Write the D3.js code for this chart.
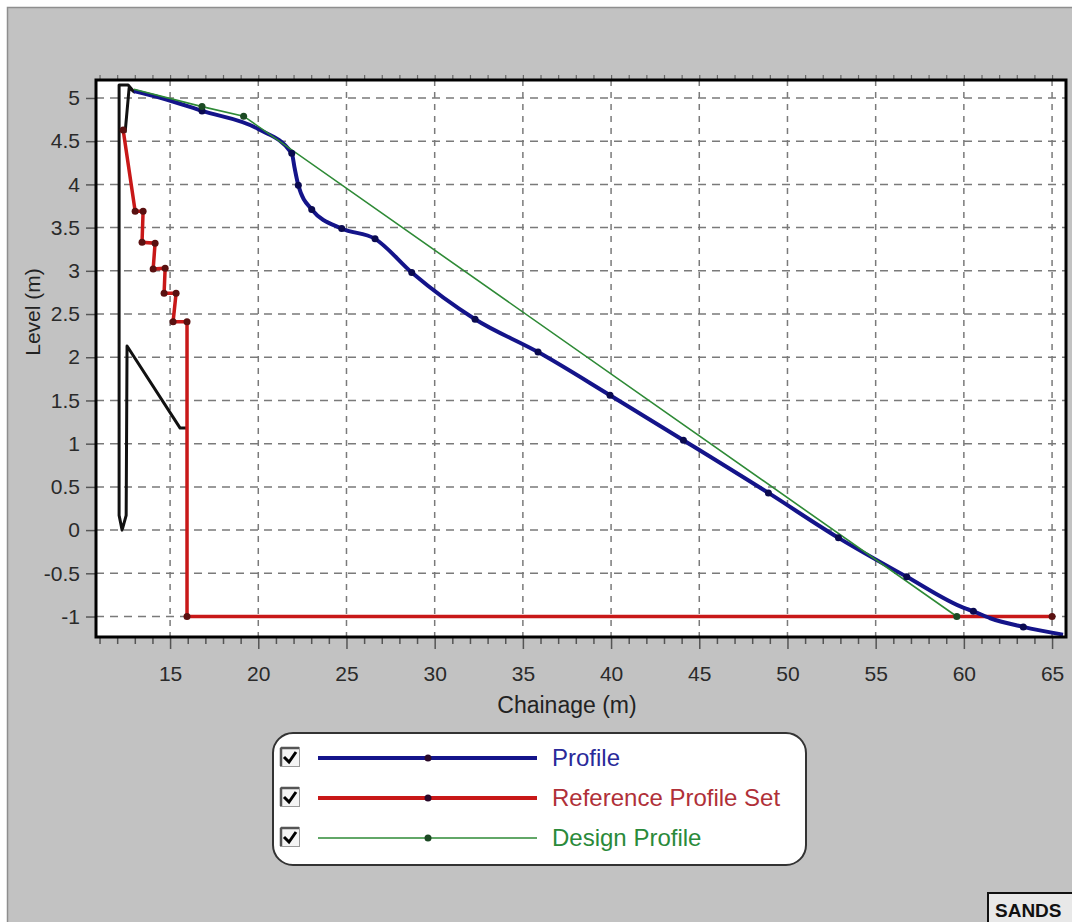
<!DOCTYPE html>
<html>
<head>
<meta charset="utf-8">
<script src="https://cdn.jsdelivr.net/npm/d3@7"></script>
<style>
  body { margin: 0; background: #ffffff; }
  text { font-family: Arial, "Liberation Sans", sans-serif; }
</style>
</head>
<body>
<div id="chart"></div>
<script>
// chart data [chainage, level]
var profile = [
  [12.95, 5.08], [14.5, 5.0], [16.81, 4.85], [20.0, 4.64], [21.9, 4.36],
  [22.05, 4.2], [22.27, 3.99], [23.03, 3.71], [24.73, 3.49], [26.62, 3.37],
  [28.7, 2.98], [32.29, 2.44], [35.86, 2.06], [39.94, 1.56], [44.1, 1.04],
  [48.92, 0.43], [52.89, -0.09], [56.76, -0.54], [60.0, -0.9], [60.54, -0.94],
  [61.5, -1.02], [63.37, -1.12], [65.62, -1.21]
];
var profileMarkers = [
  [16.81, 4.85], [21.9, 4.36], [22.27, 3.99], [23.03, 3.71], [24.73, 3.49],
  [26.62, 3.37], [28.7, 2.98], [32.29, 2.44], [35.86, 2.06], [39.94, 1.56],
  [44.1, 1.04], [48.92, 0.43], [52.89, -0.09], [56.76, -0.54], [60.54, -0.94],
  [63.37, -1.12]
];
var referenceSet = [
  [12.34, 4.63], [13.02, 3.69], [13.47, 3.69], [13.41, 3.33], [14.15, 3.32],
  [14.04, 3.02], [14.72, 3.03], [14.66, 2.74], [15.34, 2.74], [15.17, 2.41],
  [15.96, 2.41], [15.96, -1.0], [65.0, -1.0]
];
var designProfile = [
  [12.95, 5.1], [16.81, 4.9], [19.17, 4.79], [59.6, -1.0]
];
var structure = [
  [12.45, 4.6], [12.68, 5.12], [12.96, 5.07], [12.62, 5.15], [12.11, 5.15],
  [12.11, 0.17], [12.28, 0.0], [12.51, 0.17], [12.56, 2.13], [15.57, 1.18],
  [15.96, 1.18]
];
var xTicks = [15, 20, 25, 30, 35, 40, 45, 50, 55, 60, 65];
var yTicks = [-1, -0.5, 0, 0.5, 1, 1.5, 2, 2.5, 3, 3.5, 4, 4.5, 5];
var legendNames = ["Profile", "Reference Profile Set", "Design Profile"];
var legendColors = ["#14148a", "#c81818", "#2e8a36"];
var legendText = ["#2a2a9a", "#b03038", "#2a8a3a"];
var legendWidths = [4, 4, 1.6];

var W = 1072, H = 922;
var margin = { top: 80, right: 6, bottom: 285, left: 96 },
  width = W - margin.left - margin.right,
  height = H - margin.top - margin.bottom;

var svg = d3.select("#chart").append("svg")
  .attr("width", W)
  .attr("height", H);

// grey window panel
svg.append("rect")
  .attr("x", 7.5).attr("y", 7.5)
  .attr("width", W).attr("height", H)
  .attr("fill", "#c2c2c2")
  .attr("stroke", "#8e8e8e")
  .attr("stroke-width", 1.5);

var g = svg.append("g")
  .attr("transform", "translate(" + margin.left + "," + margin.top + ")");

// scales
var x = d3.scaleLinear().domain([10.8, 65.79]).range([0, width]);
var y = d3.scaleLinear().domain([-1.237, 5.208]).range([height, 0]);

// plot background
g.append("rect")
  .attr("width", width).attr("height", height)
  .attr("fill", "#ffffff");

// dashed grid
g.append("g").selectAll("line")
  .data(xTicks)
  .enter().append("line")
  .attr("x1", function (d) { return x(d); })
  .attr("x2", function (d) { return x(d); })
  .attr("y1", 0).attr("y2", height)
  .attr("stroke", "#7a7a7a")
  .attr("stroke-width", 1.5)
  .attr("stroke-dasharray", "6,6");
g.append("g").selectAll("line")
  .data(yTicks)
  .enter().append("line")
  .attr("x1", 0).attr("x2", width)
  .attr("y1", function (d) { return y(d); })
  .attr("y2", function (d) { return y(d); })
  .attr("stroke", "#7a7a7a")
  .attr("stroke-width", 1.5)
  .attr("stroke-dasharray", "8,6");

// axes
var minorX = d3.range(11, 66, 1);
var xAxis = g.append("g")
  .attr("transform", "translate(0," + height + ")")
  .call(d3.axisBottom(x).tickValues(minorX).tickSize(7)
    .tickFormat(function (d) { return xTicks.indexOf(d) >= 0 ? d : ""; }));
xAxis.select(".domain").remove();
xAxis.selectAll("line").attr("stroke", "#555").attr("stroke-width", 1.5);
xAxis.selectAll("text")
  .attr("y", 29)
  .attr("font-size", 21)
  .attr("fill", "#2a2a2a");
xAxis.selectAll(".tick").filter(function (d) { return xTicks.indexOf(d) >= 0; })
  .select("line").attr("y2", 12);

var topAxis = g.append("g")
  .call(d3.axisTop(x).tickValues(minorX).tickSize(5).tickFormat(""));
topAxis.select(".domain").remove();
topAxis.selectAll("line").attr("stroke", "#666").attr("stroke-width", 1.2);

var yAxis = g.append("g")
  .call(d3.axisLeft(y).tickValues(yTicks).tickSize(10)
    .tickFormat(function (d) { return d; }));
yAxis.select(".domain").remove();
yAxis.selectAll("line").attr("stroke", "#555").attr("stroke-width", 1.5);
yAxis.selectAll("text")
  .attr("x", -16)
  .attr("font-size", 21)
  .attr("fill", "#2a2a2a");

// series
var line = d3.line()
  .x(function (d) { return x(d[0]); })
  .y(function (d) { return y(d[1]); });
var smooth = d3.line()
  .curve(d3.curveMonotoneX)
  .x(function (d) { return x(d[0]); })
  .y(function (d) { return y(d[1]); });

var plot = g.append("g");

plot.append("path").datum(structure)
  .attr("d", line)
  .attr("fill", "none")
  .attr("stroke", "#111")
  .attr("stroke-width", 3)
  .attr("stroke-linejoin", "round");

plot.append("path").datum(referenceSet)
  .attr("d", line)
  .attr("fill", "none")
  .attr("stroke", legendColors[1])
  .attr("stroke-width", 3.5);

plot.append("path").datum(profile)
  .attr("d", smooth)
  .attr("fill", "none")
  .attr("stroke", legendColors[0])
  .attr("stroke-width", 4)
  .attr("stroke-linejoin", "round");

plot.append("path").datum(designProfile)
  .attr("d", line)
  .attr("fill", "none")
  .attr("stroke", legendColors[2])
  .attr("stroke-width", 1.6);

// markers
function dots(data, color, r) {
  plot.append("g").selectAll("circle")
    .data(data)
    .enter().append("circle")
    .attr("cx", function (d) { return x(d[0]); })
    .attr("cy", function (d) { return y(d[1]); })
    .attr("r", r)
    .attr("fill", color);
}
dots(referenceSet, "#5a1010", 3.5);
dots(profileMarkers, "#0a0a50", 3.5);
dots(designProfile.slice(1), "#1c4a24", 3.5);

// plot frame
g.append("rect")
  .attr("width", width).attr("height", height)
  .attr("fill", "none")
  .attr("stroke", "#000")
  .attr("stroke-width", 3);

// axis titles
svg.append("text")
  .attr("x", margin.left + x(37.5))
  .attr("y", 713)
  .attr("text-anchor", "middle")
  .attr("font-size", 23)
  .attr("fill", "#222")
  .text("Chainage (m)");
svg.append("text")
  .attr("transform", "translate(40,312)rotate(-90)")
  .attr("text-anchor", "middle")
  .attr("font-size", 21)
  .attr("fill", "#222")
  .text("Level (m)");

// legend box
var legend = svg.append("g").attr("transform", "translate(273,733)");
legend.append("rect")
  .attr("width", 533).attr("height", 132)
  .attr("rx", 20).attr("ry", 20)
  .attr("fill", "#ffffff")
  .attr("stroke", "#333")
  .attr("stroke-width", 2);

var rows = legend.selectAll(".row")
  .data(legendNames)
  .enter().append("g")
  .attr("class", "row")
  .attr("transform", function (d, i) { return "translate(0," + (25 + i * 40) + ")"; });

// checkboxes
rows.append("rect")
  .attr("x", 7.5).attr("y", -10.5)
  .attr("width", 19).attr("height", 19)
  .attr("fill", "#f4f4f4")
  .attr("stroke", "#9a9a9a")
  .attr("stroke-width", 1);
rows.append("path")
  .attr("d", "M8,-10 H26 M8,-10 V8")
  .attr("stroke", "#555")
  .attr("stroke-width", 2.5)
  .attr("fill", "none");
rows.append("path")
  .attr("d", "M11,-1 L16,4 L23,-6")
  .attr("stroke", "#000")
  .attr("stroke-width", 3)
  .attr("fill", "none");

rows.append("line")
  .attr("x1", 45).attr("x2", 264)
  .attr("stroke", function (d, i) { return legendColors[i]; })
  .attr("stroke-width", function (d, i) { return legendWidths[i]; });
rows.append("circle")
  .attr("cx", 155).attr("r", 3.5)
  .attr("fill", function (d, i) { return i === 2 ? "#1c4a24" : "#2a0a2a"; });
rows.append("text")
  .attr("x", 279).attr("y", 8)
  .attr("font-size", 24)
  .attr("fill", function (d, i) { return legendText[i]; })
  .text(function (d) { return d; });

// status label in the corner
svg.append("rect")
  .attr("x", 988).attr("y", 893)
  .attr("width", 100).attr("height", 40)
  .attr("fill", "#e8e8e8")
  .attr("stroke", "#111")
  .attr("stroke-width", 2);
svg.append("text")
  .attr("x", 995).attr("y", 917)
  .attr("font-size", 19)
  .attr("font-weight", "bold")
  .attr("fill", "#111")
  .text("SANDS");
</script>
</body>
</html>
